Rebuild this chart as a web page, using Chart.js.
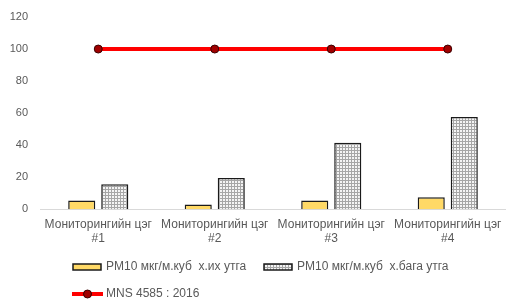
<!DOCTYPE html>
<html>
<head>
<meta charset="utf-8">
<script src="https://cdn.jsdelivr.net/npm/chart.js@4"></script>
<style>
html,body{margin:0;padding:0;background:#fff;}
#wrap{width:506px;height:300px;}
</style>
</head>
<body>
<div id="wrap"><canvas id="c" width="506" height="300"></canvas></div>
<script>
const categories = [["Мониторингийн цэг","#1"],["Мониторингийн цэг","#2"],["Мониторингийн цэг","#3"],["Мониторингийн цэг","#4"]];
const maxValues = [5.5, 3, 5.5, 7.5];
const minValues = [15.5, 19.5, 41.5, 57.5];
const standardValues = [100, 100, 100, 100];
const seriesLabels = ["PM10 мкг/м.куб  х.их утга", "PM10 мкг/м.куб  х.бага утга", "MNS 4585 : 2016"];
const yTicks = [0, 20, 40, 60, 80, 100, 120];

const FONT = "'Liberation Sans', sans-serif";

function makePattern(){
  const p = document.createElement('canvas');
  p.width = 3; p.height = 3;
  const g = p.getContext('2d');
  g.fillStyle = '#f4f4f4';
  g.fillRect(0,0,3,3);
  g.fillStyle = '#a6a6a6';
  g.fillRect(0,0,3,1);
  g.fillRect(0,0,1,3);
  return document.getElementById('c').getContext('2d').createPattern(p,'repeat');
}
const pattern = makePattern();

const legendPlugin = {
  id: 'customLegend',
  afterDraw(chart){
    const ctx = chart.ctx;
    const ds = chart.data.datasets;
    ctx.save();
    ctx.font = "12px " + FONT;
    ctx.textBaseline = 'middle';
    const items = [
      {i:1, x:73, y:267},
      {i:2, x:264, y:267},
      {i:0, x:73, y:294}
    ];
    items.forEach(it => {
      const d = ds[it.i];
      if (d.type === 'line') {
        ctx.strokeStyle = d.borderColor;
        ctx.lineWidth = d.borderWidth;
        ctx.beginPath(); ctx.moveTo(it.x-1, it.y); ctx.lineTo(it.x+30, it.y); ctx.stroke();
        ctx.beginPath(); ctx.arc(it.x+14.5, it.y, d.pointRadius, 0, Math.PI*2);
        ctx.fillStyle = d.pointBackgroundColor; ctx.fill();
        ctx.lineWidth = d.pointBorderWidth; ctx.strokeStyle = d.pointBorderColor; ctx.stroke();
      } else {
        ctx.fillStyle = d.backgroundColor;
        ctx.fillRect(it.x, it.y-3, 28, 6);
        ctx.lineWidth = 1.5; ctx.strokeStyle = d.borderColor;
        ctx.strokeRect(it.x, it.y-3, 28, 6);
      }
      ctx.fillStyle = '#595959';
      ctx.fillText(d.label, it.x+33, it.y);
    });
    ctx.restore();
  }
};

new Chart(document.getElementById('c'), {
  data: {
    labels: categories,
    datasets: [
      {
        type: 'line',
        label: seriesLabels[2],
        data: standardValues,
        borderColor: '#FF0000',
        borderWidth: 4,
        pointRadius: 4,
        pointBackgroundColor: '#A00000',
        pointBorderColor: '#3a0000',
        pointBorderWidth: 1,
        clip: false,
        order: 0
      },
      {
        type: 'bar',
        label: seriesLabels[0],
        data: maxValues,
        backgroundColor: '#FFD966',
        borderColor: '#1a1a1a',
        borderWidth: 1.5,
        categoryPercentage: 0.567,
        barPercentage: 0.82,
        order: 1
      },
      {
        type: 'bar',
        label: seriesLabels[1],
        data: minValues,
        backgroundColor: pattern,
        borderColor: '#1a1a1a',
        borderWidth: 1.5,
        categoryPercentage: 0.567,
        barPercentage: 0.82,
        order: 1
      }
    ]
  },
  options: {
    responsive: false,
    animation: false,
    devicePixelRatio: 1,
    layout: { autoPadding: false, padding: { top: 17, right: 0, left: 0, bottom: 46 } },
    plugins: { legend: { display: false }, tooltip: { enabled: false } },
    scales: {
      x: {
        afterFit(s){ s.paddingLeft = 0; s.paddingRight = 0; },
        grid: { display: false, drawTicks: false },
        border: { display: true, color: '#D9D9D9', width: 1 },
        ticks: { color: '#595959', font: { family: FONT, size: 12 }, padding: 8, maxRotation: 0, autoSkip: false }
      },
      y: {
        min: 0, max: 120,
        afterFit(s){ s.width = 40; s.paddingTop = 0; s.paddingBottom = 0; },
        afterBuildTicks(s){ s.ticks = yTicks.map(v => ({value: v})); },
        grid: { display: false, drawTicks: false },
        border: { display: false },
        ticks: { color: '#595959', font: { family: FONT, size: 11 }, padding: 12 }
      }
    }
  },
  plugins: [legendPlugin]
});
</script>
</body>
</html>
